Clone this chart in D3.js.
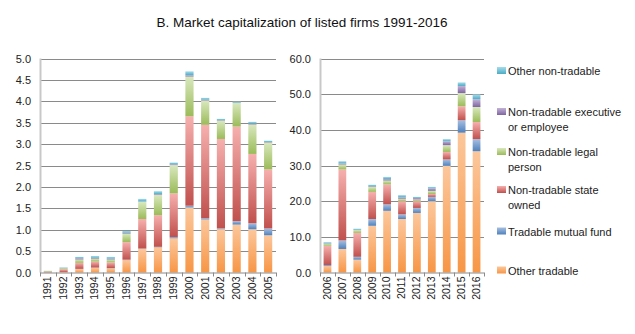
<!DOCTYPE html>
<html><head><meta charset="utf-8">
<script src="https://cdn.jsdelivr.net/npm/d3@7"></script>
<style>body{margin:0;background:#fff}svg{display:block}text{font-family:"Liberation Sans",Arial,sans-serif}</style>
</head><body>
<svg id="c" width="635" height="334"></svg>
<script>
const keys = ["Other tradable","Tradable mutual fund","Non-tradable state owned","Non-tradable legal person","Non-tradable executive or employee","Other non-tradable"];
const yearsA = ["1991","1992","1993","1994","1995","1996","1997","1998","1999","2000","2001","2002","2003","2004","2005"];
const otherTradableA = [0.005,0.01,0.08,0.11,0.10,0.29,0.55,0.59,0.80,1.52,1.24,1.01,1.12,1.01,0.87];
const mutualFundA   = [0,0,0.005,0.005,0.005,0.01,0.01,0.01,0.03,0.04,0.03,0.02,0.08,0.14,0.16];
const stateOwnedA   = [0.02,0.06,0.14,0.14,0.13,0.41,0.69,0.74,1.02,2.09,2.18,2.09,2.21,1.62,1.38];
const legalPersonA  = [0.01,0.03,0.08,0.07,0.07,0.20,0.40,0.47,0.66,0.93,0.57,0.43,0.55,0.69,0.63];
const executiveA    = [0,0.01,0.03,0.02,0.02,0.02,0.01,0.02,0.02,0.03,0.02,0.01,0.01,0.02,0.01];
const otherNonTradA = [0.005,0.01,0.03,0.04,0.04,0.04,0.06,0.07,0.04,0.09,0.04,0.03,0.02,0.04,0.03];

const yearsB = ["2006","2007","2008","2009","2010","2011","2012","2013","2014","2015","2016"];
const otherTradableB = [1.8,6.6,3.6,13.1,17.3,15.0,16.7,20.0,29.9,39.2,34.0];
const mutualFundB   = [0.3,2.4,0.8,1.9,1.8,1.3,1.4,1.2,1.8,3.5,3.4];
const stateOwnedB   = [5.4,19.9,6.7,7.6,5.6,3.7,1.9,0.8,2.1,3.9,4.8];
const legalPersonB  = [0.6,1.4,0.8,1.4,1.1,0.7,0.5,0.9,1.9,3.7,4.2];
const executiveB    = [0.1,0.3,0.1,0.2,0.4,0.4,0.4,0.7,1.1,2.0,2.2];
const otherNonTradB = [0.3,0.6,0.3,0.4,0.6,0.6,0.3,0.4,0.6,1.0,1.3];

const ticksA = [0,0.5,1,1.5,2,2.5,3,3.5,4,4.5,5];
const ticksB = [0,10,20,30,40,50,60];

const colorsBase  = ["#F79646","#4F81BD","#C0504D","#9BBB59","#8064A2","#4BACC6"];
const colorsLight = ["#FCC79C","#A7BFE0","#F6B0AE","#D9E8BE","#C2B3D6","#A6DCEA"];

function rows(years, arrs){
  return years.map((y,i)=>{const o={year:y}; keys.forEach((k,j)=>o[k]=arrs[j][i]); return o;});
}
const dataA = rows(yearsA,[otherTradableA,mutualFundA,stateOwnedA,legalPersonA,executiveA,otherNonTradA]);
const dataB = rows(yearsB,[otherTradableB,mutualFundB,stateOwnedB,legalPersonB,executiveB,otherNonTradB]);

const svg = d3.select("#c");
const defs = svg.append("defs");
keys.forEach((k,i)=>{
  const g = defs.append("linearGradient").attr("id","g"+i).attr("x1",0).attr("y1",0).attr("x2",0).attr("y2",1);
  g.append("stop").attr("offset","0%").attr("stop-color",colorsLight[i]);
  g.append("stop").attr("offset","100%").attr("stop-color",colorsBase[i]);
});

svg.append("text").attr("x",302).attr("y",27).attr("text-anchor","middle")
  .attr("font-size",13.5).attr("fill","#111").text("B. Market capitalization of listed firms 1991-2016");

function panel(data, years, x0, x1, yMax, ticks){
  const y0px = 272.5, ytop = 58.5;
  const x = d3.scaleBand().domain(years).range([x0,x1]).paddingInner(0.48).paddingOuter(0.24);
  const y = d3.scaleLinear().domain([0,yMax]).range([y0px,ytop]);
  const g = svg.append("g");
  // gridlines
  g.selectAll(".grid").data(ticks.slice(1)).enter().append("line")
    .attr("x1",x0).attr("x2",x1).attr("y1",d=>Math.round(y(d))+0.5).attr("y2",d=>Math.round(y(d))+0.5)
    .attr("stroke","#8a8a8a").attr("stroke-width",1);
  // y axis labels
  const ya = g.append("g").attr("transform",`translate(${x0},0)`)
    .call(d3.axisLeft(y).tickValues(ticks).tickFormat(d3.format(".1f")).tickSize(0).tickPadding(9));
  ya.select(".domain").remove();
  ya.selectAll("text").attr("font-size",11).attr("fill","#222").style("font-family",'"Liberation Sans",Arial,sans-serif');
  // bars
  const series = d3.stack().keys(keys)(data);
  series.forEach((s,i)=>{
    g.append("g").selectAll("rect").data(s).enter().append("rect")
      .attr("x",d=>x(d.data.year)).attr("width",x.bandwidth())
      .attr("y",d=>y(d[1])).attr("height",d=>Math.max(0,y(d[0])-y(d[1])))
      .attr("fill",`url(#g${i})`);
  });
  // vertical axis line
  g.append("line").attr("x1",x0+0.5).attr("x2",x0+0.5).attr("y1",ytop).attr("y2",y0px)
    .attr("stroke","#c8c8c8").attr("stroke-width",2);
  // x axis
  const step = x.step();
  const xa = g.append("g").attr("transform",`translate(0,${y0px})`)
    .call(d3.axisBottom(x).tickSize(0).tickPadding(4));
  xa.select(".domain").attr("stroke","#8a8a8a").attr("d",`M${x0},0.5H${x1}`);
  xa.selectAll("text").attr("font-size",10.5).attr("fill","#222")
    .style("font-family",'"Liberation Sans",Arial,sans-serif')
    .attr("transform","rotate(-90)").attr("text-anchor","end").attr("dx","-4").attr("dy","0.32em").attr("y",0).attr("x",0);
  xa.selectAll(".tick text").attr("transform","rotate(-90)");
  const bounds = d3.range(years.length+1).map(i=>x0+i*(x1-x0)/years.length);
  g.selectAll(".xt").data(bounds).enter().append("line")
    .attr("x1",d=>Math.round(d)+0.5).attr("x2",d=>Math.round(d)+0.5).attr("y1",y0px).attr("y2",y0px+4)
    .attr("stroke","#8a8a8a");
}
panel(dataA, yearsA, 40, 276, 5, ticksA);
panel(dataB, yearsB, 320, 484, 60, ticksB);

// legend
const legendItems = [
  {i:5, lines:["Other non-tradable"], y:71},
  {i:4, lines:["Non-tradable executive","or employee"], y:112},
  {i:3, lines:["Non-tradable legal","person"], y:152},
  {i:2, lines:["Non-tradable state","owned"], y:190},
  {i:1, lines:["Tradable mutual fund"], y:231.5},
  {i:0, lines:["Other tradable"], y:270.5}
];
const lg = svg.append("g");
legendItems.forEach(it=>{
  lg.append("rect").attr("x",497).attr("y",it.y-4).attr("width",9).attr("height",7).attr("fill",`url(#g${it.i})`);
  const t = lg.append("text").attr("x",508).attr("y",it.y+4).attr("font-size",11).attr("fill","#222");
  it.lines.forEach((l,j)=>t.append("tspan").attr("x",508).attr("dy",j?14.5:0).text(l));
});
</script>
</body></html>
